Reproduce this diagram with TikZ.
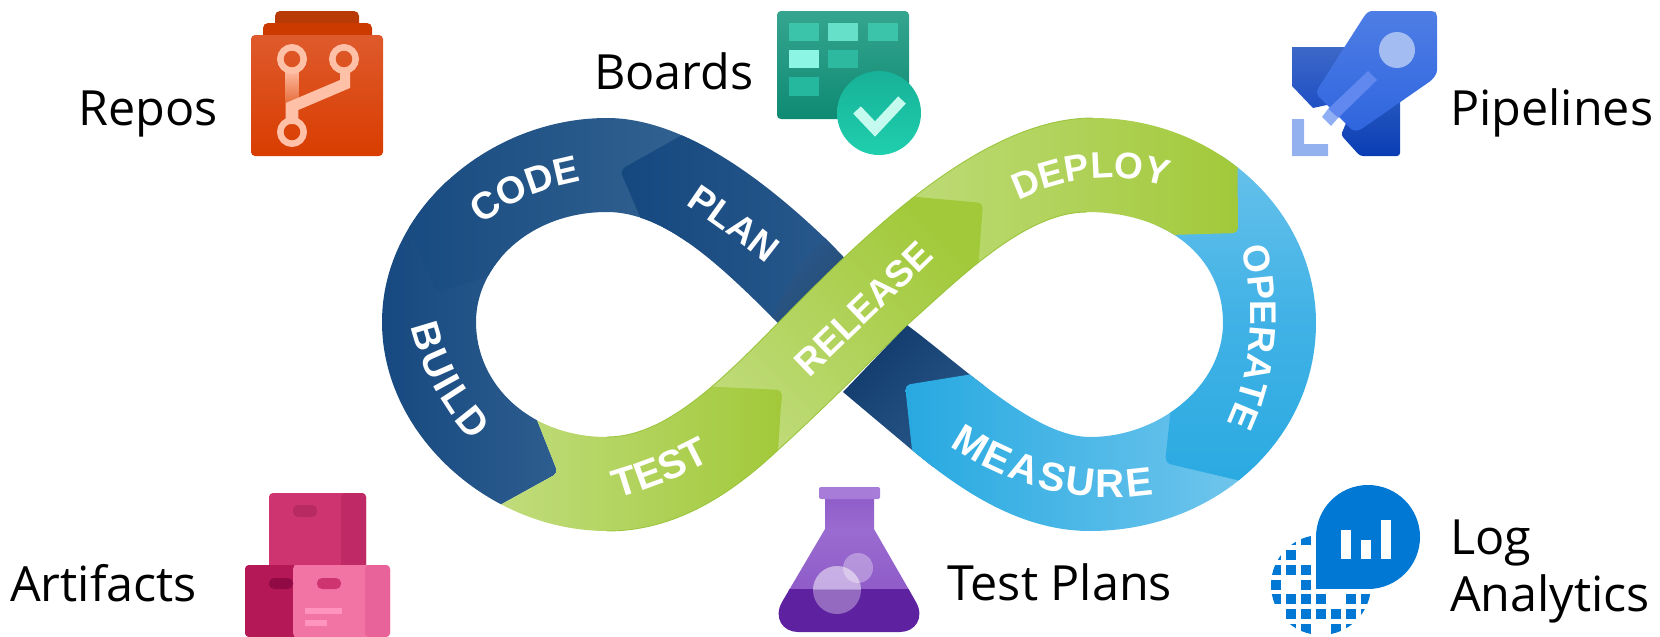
\documentclass[tikz,border=0pt]{standalone}
\usepackage{fontspec}
\usetikzlibrary{decorations.text}
\newfontfamily\lblfont{Liberation Sans}
\setmainfont{Open Sans}
\definecolor{navyS}{HTML}{15487F}
\definecolor{navyL}{HTML}{2E5D8F}
\definecolor{navyM}{HTML}{346492}
\definecolor{navyD}{HTML}{0F386A}
\definecolor{navyG}{HTML}{28425F}
\definecolor{grnS}{HTML}{A2C93A}
\definecolor{grnL}{HTML}{C0DC7C}
\definecolor{grnE}{HTML}{9CC53F}
\definecolor{bluS}{HTML}{27A9E1}
\definecolor{bluM}{HTML}{42B2E6}
\definecolor{bluL}{HTML}{6FC5EC}
\definecolor{dotblue}{HTML}{0078D4}
\definecolor{repA}{HTML}{B83A06}\definecolor{repB}{HTML}{CC3A00}\definecolor{repC}{HTML}{DE5A2C}\definecolor{repD}{HTML}{D93D00}\definecolor{repE}{HTML}{FFC0A8}\definecolor{repF}{HTML}{E8703F}
\definecolor{brdA}{HTML}{35A58F}\definecolor{brdB}{HTML}{0F8A73}\definecolor{brdC}{HTML}{3CC4AA}\definecolor{brdD}{HTML}{66E0C8}\definecolor{brdE}{HTML}{8DF5E3}\definecolor{brdF}{HTML}{2CB9A0}\definecolor{brdG}{HTML}{25B89E}\definecolor{brdH}{HTML}{17B198}\definecolor{brdI}{HTML}{1FCFAE}\definecolor{brdJ}{HTML}{C5FBEF}
\definecolor{pipA}{HTML}{4E7DE5}\definecolor{pipB}{HTML}{2F65DE}\definecolor{pipC}{HTML}{3D68C8}\definecolor{pipD}{HTML}{1F50C4}\definecolor{pipE}{HTML}{2A5BBF}\definecolor{pipF}{HTML}{0A3DB5}\definecolor{pipG}{HTML}{A3BDF3}\definecolor{pipH}{HTML}{6088EE}\definecolor{pipI}{HTML}{90AEF4}\definecolor{pipJ}{HTML}{94B1EF}
\definecolor{artA}{HTML}{CE3570}\definecolor{artB}{HTML}{BF2A66}\definecolor{artC}{HTML}{B72A62}\definecolor{artD}{HTML}{B41857}\definecolor{artE}{HTML}{F274A5}\definecolor{artF}{HTML}{E7639A}\definecolor{artG}{HTML}{920A45}\definecolor{artH}{HTML}{FF94BE}
\definecolor{flaA}{HTML}{A77CD8}\definecolor{flaB}{HTML}{8F5CC8}\definecolor{flaC}{HTML}{5E21A0}\definecolor{flaD}{HTML}{9A6BD0}
\def\shapeL{(607,531) .. controls (490,531) and (382,435) .. (382,322)
 .. controls (382,210) and (490,118) .. (607,118)
 .. controls (680,118) and (760,175) .. (830,243)
 -- (880,295) -- (810,365) -- (778,323)
 .. controls (720,265) and (665,212) .. (607,212)
 .. controls (530,212) and (476,265) .. (476,322)
 .. controls (476,385) and (530,437) .. (607,437) -- cycle}
\def\shapeR{(476,322) .. controls (476,385) and (530,437) .. (607,437)
 .. controls (665,437) and (720,382) .. (778,323)
 .. controls (860,240) and (980,118) .. (1093,118)
 .. controls (1215,118) and (1316,210) .. (1316,323)
 .. controls (1316,440) and (1215,531) .. (1090,531)
 -- (1090,437)
 .. controls (1160,437) and (1223,385) .. (1223,323)
 .. controls (1223,255) and (1165,212) .. (1087,212)
 .. controls (1025,212) and (960,278) .. (907,325)
 .. controls (870,362) and (820,412) .. (778,450)
 .. controls (725,500) and (670,531) .. (607,531)
 .. controls (490,531) and (382,435) .. (382,322) -- cycle}
\def\shapeM{(843,392) -- (907,325)
 .. controls (965,368) and (1035,437) .. (1090,437)
 .. controls (1160,437) and (1223,385) .. (1223,323)
 -- (1316,323)
 .. controls (1316,440) and (1215,531) .. (1090,531)
 .. controls (1020,531) and (960,490) .. (912,450) -- cycle}
\newcommand{\bandlabel}[3]{\path[decorate,decoration={text along path,text align=center,text color=white,
  text={|\lblfont\bfseries\fontsize{#1}{#1}\selectfont|#2}}] #3;}
\tikzset{
  lab/.style={anchor=base west,inner sep=0pt,text=black,font=\fontsize{48.5}{57}\selectfont},
}
\begin{document}
\begin{tikzpicture}[x=1pt,y=-1pt]
\useasboundingbox (0,0) rectangle (1660,637);
% ---- BUILD
\begin{scope}\clip \shapeL;
\shade[left color=navyS,right color=navyL] (370,180) -- (483,180) -- (537,420) [rounded corners=5pt] -- (558,473) [sharp corners] -- (500,505) -- (370,520) -- cycle;
% ---- CODE
\shade[left color=navyS,right color=navyM] (500,272) -- (700,240) -- (720,100) -- (370,100) -- (377,153) [rounded corners=6pt] -- (437,293) [sharp corners] -- cycle;
% ---- PLAN
\shade[left color=navyS,right color=navyL] (700,125) -- (900,125) -- (900,340) -- (780,340) -- (650,240) [rounded corners=6pt] -- (620,170) [sharp corners] -- cycle;
\shade[left color=navyL!75!navyS,right color=navyG,shading angle=45] (800,265) -- (825,238) -- (885,295) -- (815,365) -- (770,320) -- cycle;
\end{scope}
% ---- dark tail
\begin{scope}\clip \shapeM;
\shade[left color=navyD,right color=navyL,shading angle=45] (835,330) -- (900,310) -- (1000,400) -- (920,480) -- (835,400) -- cycle;
% ---- MEASURE
\shade[left color=bluS,right color=bluL] (985,372) -- (1240,400) -- (1240,560) -- (920,560) -- (912,450) [rounded corners=5pt] -- (905,385) [sharp corners] -- cycle;
\end{scope}
% ---- OPERATE, DEPLOY, RELEASE, TEST
\begin{scope}\clip \shapeR;
\shade[bottom color=bluS,top color=bluL,middle color=bluM] (1175,370) -- (1150,180) -- (1330,120) -- (1340,505) -- (1237,480) [rounded corners=6pt] -- (1165,463) [sharp corners] -- cycle;
\shade[left color=grnL,right color=grnS] (1237,100) -- (880,100) -- (880,340) -- (1100,237) [rounded corners=5pt] -- (1238,233) [sharp corners] -- cycle;
\shade[left color=grnL,right color=grnS,shading angle=135] (880,193) -- (917,197) [rounded corners=5pt] -- (983,203) [sharp corners] -- (975,310) -- (760,480) -- (700,380) -- cycle;
\shade[left color=grnL,right color=grnS] (537,420) [rounded corners=5pt] -- (558,473) [sharp corners] -- (500,505) -- (520,560) -- (779,540) -- (778,450) [rounded corners=5pt] -- (782,390) [sharp corners] -- (700,386) -- (600,400) -- cycle;
\end{scope}
\draw[grnE,line width=0.9pt] (607,437) .. controls (665,437) and (720,382) .. (778,323) .. controls (860,240) and (980,118) .. (1093,118);
\draw[grnE,line width=0.9pt] (1087,212) .. controls (1025,212) and (960,278) .. (907,325) .. controls (870,362) and (820,412) .. (778,450) .. controls (725,500) and (670,531) .. (607,531);
% ---- band labels
\bandlabel{38}{CODE}{(473,233) .. controls (498,205) and (553,184) .. (593,180)}
\bandlabel{37}{PLAN}{(660,188) .. controls (690,206) and (750,248) .. (790,283)}
\bandlabel{39}{{B\kern3pt}{U\kern3pt}{I\kern3pt}{L\kern3pt}D}{(407,300) .. controls (412,350) and (437,410) .. (490,460)}
\bandlabel{40}{TEST}{(593,505) .. controls (623,498) and (683,480) .. (733,448)}
\bandlabel{37}{RELEASE}{(787,400) .. controls (827,360) and (897,295) .. (957,235)}
\bandlabel{37}{DEPLOY}{(993,215) .. controls (1048,178) and (1128,163) .. (1193,198)}
\bandlabel{37}{OPERATE}{(1239,240) .. controls (1256,290) and (1256,370) .. (1223,430)}
\bandlabel{40}{{M\kern2.5pt}{E\kern2.5pt}{A\kern2.5pt}{S\kern2.5pt}{U\kern2.5pt}{R\kern2.5pt}E}{(931,432) .. controls (986,476) and (1076,515) .. (1176,490)}
% ---- text labels
\node[lab] (repos) at (78,125) {Repos};
\node[lab] (boards) at (594,89) {Boards};
\node[lab] (pipelines) at (1450,125) {Pipelines};
\node[lab] (artifacts) at (10,601) {Artifacts};
\node[lab] (testplans) at (947,600) {Test Plans};
\node[lab,anchor=north west,align=left] (loganalytics) at (1450,520) {Log\\Analytics};
% ---- Repos icon
\fill[repA,rounded corners=5pt] (275,11) rectangle (359,45);
\fill[repB,rounded corners=5pt] (263,23) rectangle (372,50);
\shade[top color=repC,bottom color=repD,rounded corners=4pt] (251,35) rectangle (383,156);
\shade[top color=repE,bottom color=repF] (285.7,68) rectangle (298.3,102);
\fill[repE] (340,68) -- (350,68) -- (350,88) -- (298.3,110) -- (298.3,124) -- (285.7,124) -- (285.7,103) -- (340,80) -- cycle;
\draw[repE,line width=6.5pt] (292,59) circle[radius=11.7pt];
\draw[repE,line width=6.5pt] (344,59) circle[radius=11.7pt];
\draw[repE,line width=6.5pt] (292,132) circle[radius=11.7pt];
% ---- Boards icon
\shade[top color=brdA,bottom color=brdB,rounded corners=4pt] (777,11) rectangle (909,119);
\fill[brdC] (789,23) rectangle (819,41);
\fill[brdD] (828,23) rectangle (858,41);
\fill[brdC] (868,23) rectangle (898,41);
\fill[brdE] (789,50) rectangle (819,68);
\fill[brdF] (828,50) rectangle (858,68);
\fill[brdG] (789,77) rectangle (819,96);
\shade[top color=brdH,bottom color=brdI] (879,113) circle[radius=42pt];
\draw[brdJ,line width=10.5pt,line join=miter] (857,110) -- (875,129) -- (902,100);
% ---- Pipelines icon
\shade[top color=pipC,bottom color=pipD,rounded corners=4pt] (1292,47) -- (1350,47) -- (1350,100) [sharp corners] -- (1313,108) -- (1292,86) -- cycle;
\shade[top color=pipE,bottom color=pipF,rounded corners=3pt] (1400,90) -- (1400,156) -- (1360,156) -- (1341,135) -- (1360,90) -- cycle;
\shade[top color=pipA,bottom color=pipB,rounded corners=3pt] (1365,15) -- (1369,11) -- (1434,11) -- (1437,14) -- (1437,73) -- (1432,80) -- (1360,130) -- (1353,131) -- (1317,95) -- (1317,90) -- cycle;
\fill[pipG] (1397,50) circle[radius=18pt];
\fill[pipH] (1368,71) -- (1377,80) -- (1338,118) -- (1328,109) -- cycle;
\fill[pipI] (1328,109) -- (1338,118) -- (1331,126) -- (1322,117) -- cycle;
\fill[pipJ] (1292,119) -- (1304,119) -- (1304,144) -- (1328,144) -- (1328,156) -- (1292,156) -- cycle;
% ---- Artifacts icon
\fill[artA,rounded corners=4pt] (269,493) rectangle (366,570);
\fill[artB,rounded corners=4pt] (341,493) rectangle (366,570);
\fill[artA] (269,500) rectangle (341,570);
\fill[artC,rounded corners=5pt] (293,505) rectangle (317,517);
\fill[artE,rounded corners=4pt] (245,565) rectangle (390,637);
\fill[artD,rounded corners=4pt] (245,565) rectangle (297,637);
\fill[artE,rounded corners=4pt] (293,565) rectangle (370,637);
\fill[artF,rounded corners=4pt] (365,565) rectangle (390,637);
\fill[artE] (340,565) rectangle (365,637);
\fill[artG,rounded corners=5pt] (269,578) rectangle (293,589);
\fill[artA,rounded corners=5pt] (317,578) rectangle (341,589);
\fill[artH] (305,608) rectangle (342,614);
\fill[artH] (305,620) rectangle (327,626);
% ---- Test Plans icon
\shade[top color=flaB,bottom color=flaD] (825,495) rectangle (874,530);
\fill[flaA,rounded corners=2pt] (819,487) rectangle (880,499);
\begin{scope}
\clip (825,529) -- (874,529) -- (916,602) .. controls (925,618) and (915,632) .. (900,632) -- (798,632) .. controls (783,632) and (773,618) .. (782,602) -- cycle;
\shade[top color=flaD,bottom color=flaB] (770,529) rectangle (930,590);
\fill[flaC] (770,589) rectangle (930,637);
\end{scope}
\fill[white,opacity=0.33] (837,590) circle[radius=24pt];
\begin{scope}
\clip (800,550) rectangle (880,589);
\fill[white,opacity=0.25] (837,590) circle[radius=24pt];
\end{scope}
\fill[white,opacity=0.32] (858,568) circle[radius=15pt];
% ---- Log Analytics icon
\fill[dotblue] (1368,537) circle[radius=52pt];
\fill[dotblue] (1316,537) rectangle (1368,589);
\fill[white] (1341,530) rectangle (1351,559);
\fill[white] (1361,540) rectangle (1371,559);
\fill[white] (1381,520) rectangle (1391,559);
\begin{scope}
\clip (1321,585) circle[radius=50pt];
\foreach \px/\py in {1286/535,1301/535,1271/550,1286/550,1271/565,1286/565,1301/565,1271/580,1301/580,1271/594,1286/594,1301/594,1316/594,1346/594,1361/594,1286/609,1301/609,1316/609,1331/609,1346/609,1361/609,1286/624,1301/624,1331/624,1346/624}
  \fill[dotblue] (\px,\py) rectangle +(10,10);
\end{scope}
\end{tikzpicture}
\end{document}
